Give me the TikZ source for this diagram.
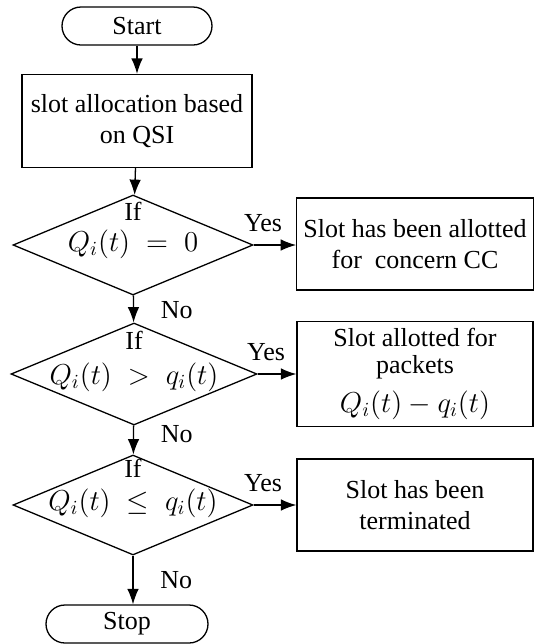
\documentclass[tikz,border=0pt]{standalone}
\usepackage{amsmath}
\usepackage{fontspec}
\setmainfont{Liberation Serif}
\usetikzlibrary{arrows.meta,shapes.geometric}

\newcommand{\eqsize}{\fontsize{14.5}{17}\selectfont}

\begin{document}
\begin{tikzpicture}[x=0.5pt, y=-0.5pt, font=\fontsize{13}{15.5}\selectfont,
        line width=0.65pt,
        terminal/.style={draw, rounded corners=9.5pt, minimum width=75pt, minimum height=19pt},
        process/.style={draw, align=center, minimum width=115pt, minimum height=46.5pt},
        decision/.style={draw, diamond, inner sep=0pt, minimum width=120pt, minimum height=50pt},
        outcome/.style={draw, align=center, minimum width=118pt, minimum height=46pt},
        flow/.style={-{Latex[scale=1.3]}}]
        \useasboundingbox (0,0) rectangle (535,644);

        \node[terminal] (start) at (137, 26) {Start};
        \node[process] (alloc) at (137, 121) {slot allocation based\\on QSI};

        \node[decision] (d1) at (133, 245) {};
        \node[inner sep=1pt] (if1) at (133, 211) {If};
        \node[inner sep=1pt] (eq1) at (133, 244) {\eqsize $Q_i(t) \;=\; 0$};

        \node[decision, minimum width=123pt, minimum height=51pt] (d2) at (134, 374) {};
        \node[inner sep=1pt] (if2) at (134, 340) {If};
        \node[inner sep=1pt] (eq2) at (134, 377) {\eqsize $Q_i(t) \;>\; q_i(t)$};

        \node[decision] (d3) at (133, 505) {};
        \node[inner sep=1pt] (if3) at (133, 468) {If};
        \node[inner sep=1pt] (eq3) at (133, 503) {\eqsize $Q_i(t) \;\leq\; q_i(t)$};

        \node[terminal, minimum width=81pt] (stop) at (127, 624) {Stop};

        \node[outcome] (out1) at (415, 244) {Slot has been allotted\\for\ \ concern CC};
        \node[outcome, minimum height=47pt, font=\fontsize{13}{13.5}\selectfont] (out2) at (415, 374)
            {Slot allotted for\\packets\\[5pt]\eqsize $Q_i(t) - q_i(t)$};
        \node[outcome] (out3) at (415, 505) {Slot has been\\terminated};

        \draw[flow] (start) -- (alloc);
        \draw[flow] (alloc) -- (d1);
        \draw[flow] (d1) -- node[right=10pt, pos=0.55] {No} (d2);
        \draw[flow] (d2) -- node[right=10pt, pos=0.3] {No} (d3);
        \draw[flow] (d3.south) -- node[right=10pt, pos=0.5] {No} (d3.south |- stop.north);

        \draw[flow] (d1.east) -- node[above=3pt, pos=0.22] {Yes} (out1.west |- d1.east);
        \draw[flow] (d2.east) -- node[above=3pt, pos=0.22] {Yes} (out2.west |- d2.east);
        \draw[flow] (d3.east) -- node[above=3pt, pos=0.22] {Yes} (out3.west |- d3.east);
    \end{tikzpicture}
\end{document}
